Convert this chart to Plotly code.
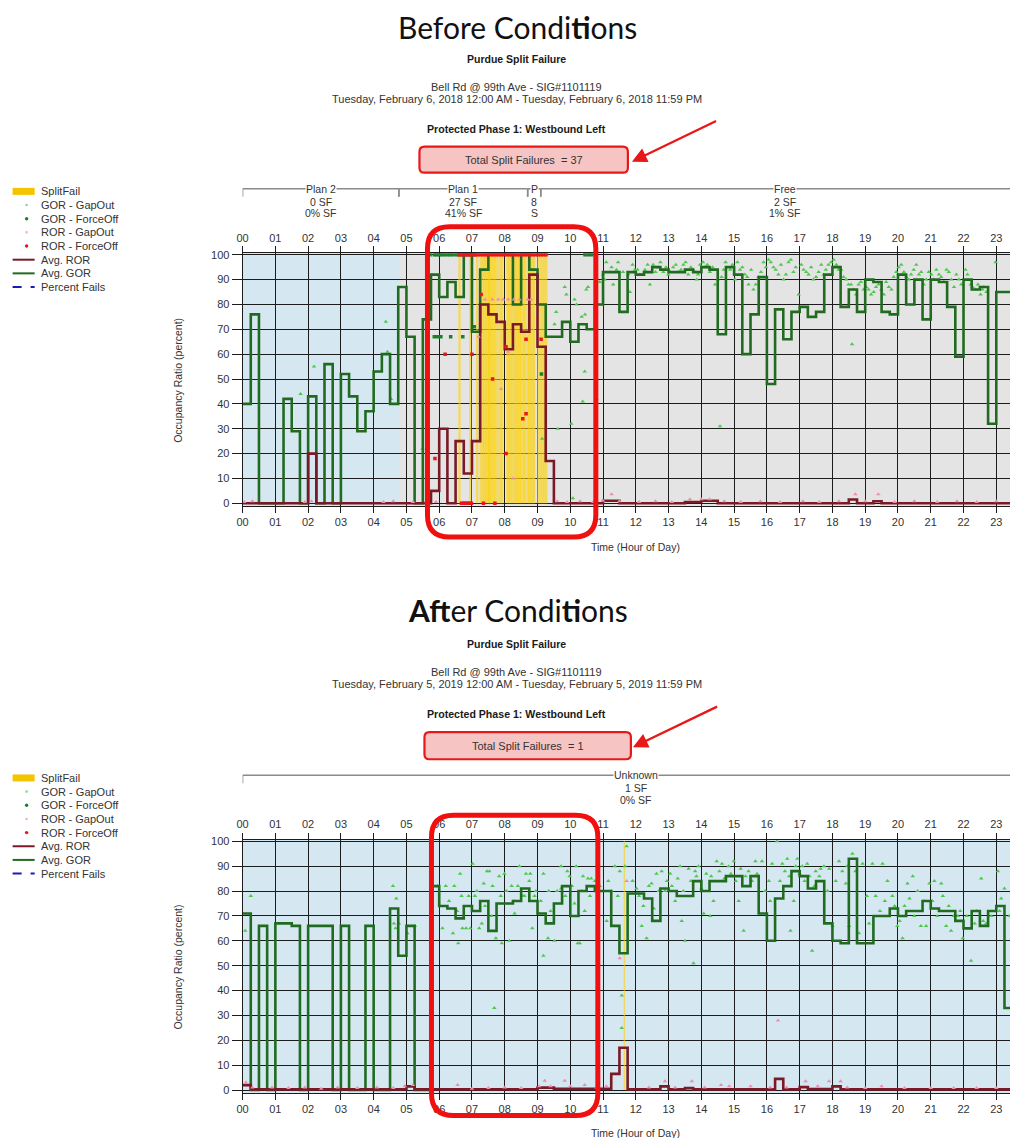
import plotly.graph_objects as go

W, H = 1018, 1138

# ------------------------------------------------------------------ data
hours = list(range(24))
hour_labels = ["%02d" % h for h in hours]
y_ticks = list(range(0, 101, 10))
bin_edges = [q / 4 for q in range(97)]  # quarter-hour bins 0..24

before_gor = [40, 76, 0, 0, 0, 42, 29, 0, 43, 0, 56, 0, 52, 43, 29, 37,
              53, 60, 40, 87, 67, 0, 74, 92, 83, 89, 83, 100, 69, 94, 100, 100,
              100, 80, 100, 94, 80, 67, 67, 73, 65, 72, 70, 80, 93, 93, 77, 93,
              92, 93, 95, 94, 93, 93, 94, 93, 95, 94, 68, 95, 92, 60, 76, 91,
              48, 78, 66, 77, 79, 75, 77, 92, 95, 79, 86, 77, 90, 89, 77, 76,
              92, 80, 90, 74, 90, 89, 79, 59, 90, 86, 87, 32, 85, 85, 0, 0]
before_ror = [0, 0, 0, 0, 0, 0, 0, 0, 20, 0, 0, 0, 0, 0, 0, 0,
              0, 0, 0, 0, 0, 0, 0, 5, 30, 0, 25, 12, 25, 80, 76, 73,
              62, 72, 69, 92, 63, 17, 0, 0, 0, 0, 0, 0, 1, 1, 0, 0,
              0, 0, 0, 0, 0, 0, 0.5, 0.5, 1, 1, 0, 0, 0, 0, 0, 0,
              0, 0, 0, 0, 0, 0, 0, 0, 0, 0, 1.5, 0, 0, 0.8, 0, 0,
              0, 0, 0, 0, 0, 0, 0, 0, 0, 0, 0, 0, 0, 0, 0, 0]
after_gor = [71, 0, 66, 0, 67, 67, 66, 0, 66, 66, 66, 0, 66, 0, 0, 66,
             0, 0, 73, 54, 66, 0, 0, 82, 74, 73, 69, 74, 72, 76, 64, 75,
             75, 76, 81, 76, 71, 67, 75, 82, 70, 80, 82, 80, 80, 66, 55, 79,
             79, 77, 68, 81, 80, 78, 78, 84, 80, 84, 84, 86, 86, 82, 86, 71,
             60, 77, 82, 88, 86, 81, 84, 67, 60, 59, 93, 59, 59, 70, 70, 73,
             70, 72, 72, 76, 73, 72, 72, 68, 65, 72, 66, 72, 74, 33, 74, 74]
after_ror = [2, 0.3, 0.3, 0.3, 0.3, 0.3, 0.3, 0.3, 0.3, 0.3, 0.3, 0.3, 0.3, 0.3, 0.3, 0.3,
             0.3, 0.3, 0.3, 0.3, 1.5, 0.3, 0.3, 0.3, 0.3, 0.3, 0.3, 0.3, 0.3, 0.3, 0.3, 0.3,
             0.3, 0.3, 0.3, 0.3, 1, 1, 0.5, 0.5, 0.5, 0.5, 0.5, 0.5, 0.5, 6.5, 17, 0.3,
             0.3, 0.3, 0.3, 1.5, 0.3, 0.3, 0.8, 0.3, 0.3, 0.3, 0.3, 0.3, 0.3, 0.3, 0.3, 0.3,
             0.3, 4.5, 0.3, 0.3, 1.2, 0.4, 0.4, 0.4, 1.5, 0.3, 0.3, 0.3, 0.3, 0.3, 0.3, 0.3,
             0.3, 0.3, 0.3, 0.3, 0.3, 0.3, 0.3, 0.3, 0.3, 0.3, 0.3, 0.3, 0.3, 0.3, 0.3, 1.5]

before_sf_times = [6.62, 6.95, 7.16, 7.27, 7.33, 7.38, 7.43, 7.48, 7.52, 7.55,
                   7.60, 7.66, 7.71, 7.78, 7.86, 7.92, 8.08, 8.13, 8.18, 8.24,
                   8.30, 8.35, 8.40, 8.45, 8.50, 8.57, 8.62, 8.70, 8.75, 8.80,
                   8.86, 8.90, 9.02, 9.09, 9.15, 9.21, 9.27]
after_sf_times = [11.65]

before_gor_gap = [
    (1.77, 44), (2.18, 55), (4.37, 73), (4.42, 61), (4.53, 42), (5.49, 22),
    (9.14, 26), (9.52, 72), (9.57, 77), (9.62, 30), (9.83, 87), (9.88, 84), (10.03, 32),
    (10.08, 2), (10.13, 82), (10.19, 80), (10.35, 75), (10.38, 41), (10.44, 53), (10.45, 76),
    (10.49, 86), (10.54, 87), (10.8, 42), (10.9, 89),
    (11.0, 92), (11.1, 97), (11.21, 93), (11.31, 88), (11.41, 94), (11.61, 93), (11.77, 92),
    (11.82, 85), (11.97, 94), (12.12, 92), (12.28, 94), (12.43, 88), (12.53, 96), (12.68, 95),
    (12.84, 93), (12.99, 92), (13.14, 95), (13.3, 93), (13.45, 96), (13.6, 92), (13.75, 94),
    (13.86, 90), (13.96, 96), (14.11, 95), (14.26, 93), (14.42, 88), (14.57, 31), (14.62, 91),
    (14.74, 97), (14.88, 94), (15.03, 90), (15.18, 94), (15.33, 92), (15.44, 88), (15.59, 86),
    (15.74, 91), (15.9, 97), (16.05, 98), (16.2, 95), (16.35, 92), (16.51, 90), (16.66, 97),
    (16.81, 93), (16.97, 84), (17.12, 94), (17.27, 92), (17.42, 90), (17.58, 93), (17.73, 92),
    (17.88, 96), (18.04, 98), (18.19, 94), (18.34, 91), (18.49, 88), (18.6, 64), (18.65, 86),
    (18.8, 88), (18.95, 86), (19.1, 86), (19.26, 85), (19.41, 88), (19.57, 84), (19.72, 87),
    (19.87, 91), (20.02, 95), (20.18, 93), (20.33, 90), (20.48, 94), (20.64, 92), (20.79, 88),
    (20.94, 93), (21.09, 90), (21.25, 92), (21.4, 89), (21.55, 93), (21.71, 87), (21.86, 90),
    (22.06, 94), (22.22, 88), (22.37, 86), (22.52, 84), (22.62, 87), (22.98, 97),
    (11.05, 90), (11.26, 95), (11.46, 97), (11.9, 96), (12.05, 94), (12.2, 92), (12.36, 96),
    (12.6, 93), (12.75, 97), (12.92, 95), (13.05, 93), (13.22, 96), (13.38, 94), (13.52, 97),
    (13.68, 95), (13.9, 92), (14.05, 97), (14.18, 96), (14.34, 95), (14.5, 90), (14.68, 94),
    (14.95, 96), (15.1, 97), (15.25, 95), (15.4, 91), (15.52, 94), (15.66, 88), (15.82, 93),
    (15.97, 95), (16.12, 97), (16.27, 94), (16.43, 96), (16.58, 92), (16.73, 98), (16.88, 95),
    (17.05, 96), (17.2, 93), (17.35, 95), (17.5, 91), (17.66, 96), (17.8, 94), (17.96, 97),
    (18.12, 96), (18.27, 94), (18.42, 90), (18.57, 88), (18.72, 84), (18.87, 89), (19.03, 87),
    (19.18, 84), (19.33, 87), (19.49, 86), (19.64, 89), (19.8, 86), (19.95, 93), (20.1, 96),
    (20.25, 91), (20.4, 92), (20.56, 96), (20.71, 93), (20.86, 90), (21.02, 92), (21.17, 94),
    (21.32, 91), (21.48, 94), (21.63, 90), (21.78, 92), (21.93, 88), (22.12, 92), (22.28, 87),
    (22.44, 88), (22.58, 86), (22.7, 85)]
before_gor_force = [
    (5.62, 100), (5.72, 100), (5.85, 100), (5.93, 100), (6.0, 100), (6.08, 100), (6.16, 100),
    (6.25, 100), (6.33, 100), (6.42, 100), (6.52, 100), (6.6, 100), (6.7, 100), (6.8, 100),
    (6.9, 100), (7.0, 100), (7.08, 100), (10.45, 100), (10.55, 100), (10.65, 100),
    (5.85, 67), (5.95, 67), (6.05, 67), (6.35, 67), (6.72, 67), (7.07, 71), (9.12, 52)]
before_ror_gap = [
    (7.4, 82), (7.62, 82), (7.8, 82), (7.95, 82), (8.1, 82), (8.28, 82), (8.45, 82), (8.7, 82),
    (8.8, 82), (7.89, 46), (8.25, 10), (7.2, 67), (8.1, 61),
    (0.05, 0.5), (0.3, 0.8), (1.9, 0.5), (2.1, 0.8), (4.3, 0.5), (4.6, 0.8), (5.2, 0.5),
    (5.6, 0.8), (5.9, 0.5), (9.6, 0.8), (9.9, 0.5), (10.3, 0.8), (10.7, 0.5), (11.0, 1),
    (11.26, 3.6), (11.5, 0.8), (12.1, 0.5), (12.6, 0.8), (13.1, 0.5), (13.65, 1.6), (14.0, 1.6),
    (14.25, 1.6), (14.7, 0.8), (15.2, 0.5), (15.8, 0.8), (16.4, 0.5), (17.1, 0.8), (17.6, 0.5),
    (18.2, 0.8), (18.7, 3.6), (19.0, 0.8), (19.4, 3.6), (19.9, 0.5), (20.5, 0.8), (21.2, 0.5),
    (21.8, 0.8), (22.4, 0.5), (23.0, 0.8), (23.5, 0.5)]
before_ror_force = [
    (6.62, 100), (6.7, 100), (6.78, 100), (6.86, 100), (6.94, 100), (7.02, 100), (7.1, 100),
    (7.18, 100), (7.26, 100), (7.34, 100), (7.42, 100), (7.5, 100), (7.58, 100), (7.66, 100),
    (7.74, 100), (7.82, 100), (7.9, 100), (7.98, 100), (8.06, 100), (8.14, 100), (8.22, 100),
    (8.3, 100), (8.38, 100), (8.46, 100), (8.54, 100), (8.62, 100), (8.7, 100), (8.78, 100),
    (8.86, 100), (8.94, 100), (9.02, 100), (9.1, 100), (9.18, 100), (9.26, 100),
    (6.68, 0), (6.73, 0), (6.78, 0), (6.83, 0), (6.88, 0), (6.93, 0), (6.98, 0), (7.35, 0), (7.7, 0),
    (5.87, 18), (6.18, 60), (7.0, 60), (7.28, 84), (7.63, 50), (8.04, 20), (8.04, 63),
    (8.55, 34), (8.65, 36), (8.65, 66), (9.11, 66)]

after_gor_gap = [
    (0.08, 64), (0.25, 78), (4.59, 82), (4.69, 77), (4.62, 67), (4.67, 65), (4.77, 67),
    (5.03, 63), (5.26, 66), (5.95, 82), (6.2, 82), (6.46, 82), (6.64, 87), (6.68, 78),
    (6.1, 65), (6.42, 63), (6.58, 59), (6.71, 65), (6.82, 65), (6.95, 65), (7.02, 91),
    (7.09, 78), (7.22, 65), (7.3, 67), (7.36, 83), (7.46, 88), (7.53, 88), (7.63, 82),
    (7.68, 33), (7.73, 61), (7.83, 86), (7.91, 59), (7.99, 87), (8.14, 60), (8.21, 82),
    (8.28, 76), (8.3, 71), (8.45, 90), (8.55, 78), (8.65, 87), (8.78, 87), (8.75, 84),
    (8.84, 65), (8.91, 78), (9.18, 87), (9.18, 54), (9.32, 61), (9.52, 60), (9.34, 80),
    (9.72, 81), (9.72, 90), (9.91, 88), (9.98, 86), (10.18, 90), (10.23, 59), (10.29, 59),
    (10.13, 75), (10.44, 72), (10.54, 85), (10.64, 85),
    (10.39, 86), (10.75, 84), (10.9, 82), (11.11, 68), (11.16, 84), (11.36, 90), (11.51, 88),
    (11.67, 90), (12.18, 66), (12.02, 81), (12.23, 74), (12.33, 61), (12.48, 83), (12.63, 87),
    (12.79, 88), (12.89, 80), (13.05, 87), (13.2, 76), (13.35, 90), (13.4, 68), (13.5, 60),
    (13.61, 89), (13.76, 51), (13.81, 88), (13.91, 90), (14.07, 71), (14.27, 70), (14.37, 76),
    (14.47, 92), (14.63, 91), (14.83, 90), (14.99, 92), (15.14, 76), (15.29, 64), (15.44, 88),
    (15.65, 92), (15.85, 92), (16.06, 84), (16.16, 91), (16.31, 100), (16.47, 91), (16.62, 93),
    (16.72, 64), (16.82, 76), (16.93, 93), (17.08, 90), (17.23, 91), (17.38, 56), (17.49, 88),
    (17.64, 89), (17.74, 90), (17.9, 89), (18.0, 66), (18.2, 92), (18.41, 83), (18.51, 66),
    (18.61, 95), (18.81, 63), (18.92, 91), (19.12, 67), (19.22, 91), (19.32, 78), (19.53, 91),
    (19.68, 84), (19.83, 78), (19.98, 66), (20.14, 61), (20.29, 83), (20.45, 86), (20.6, 80),
    (20.7, 66), (20.86, 66), (20.96, 83), (21.11, 84), (21.32, 83), (21.37, 78), (21.47, 66),
    (21.62, 64), (21.83, 70), (21.98, 61), (22.23, 52), (22.34, 67), (22.54, 85), (22.69, 67),
    (23.05, 88), (23.15, 77), (23.25, 81), (23.51, 82), (23.61, 82),
    (11.57, 38), (11.57, 25), (11.72, 98),
    (11.25, 80), (11.45, 78), (11.9, 84), (12.1, 78), (12.4, 82), (12.55, 73), (12.7, 80),
    (12.95, 84), (13.1, 82), (13.28, 85), (13.45, 80), (13.68, 84), (13.85, 86), (14.0, 81),
    (14.15, 87), (14.3, 86), (14.55, 88), (14.7, 85), (14.9, 87), (15.05, 84), (15.2, 89),
    (15.35, 86), (15.55, 84), (15.7, 87), (15.95, 80), (16.1, 76), (16.4, 84), (16.55, 88),
    (16.68, 86), (16.88, 90), (17.0, 87), (17.15, 84), (17.3, 86), (17.45, 82), (17.6, 86),
    (17.85, 80), (18.1, 84), (18.3, 88), (18.45, 90), (18.7, 88), (19.05, 78), (19.45, 72),
    (19.6, 76), (19.9, 74), (20.05, 68), (20.2, 74), (20.35, 77), (20.5, 70), (20.8, 76),
    (21.05, 76), (21.2, 70), (21.55, 74), (21.7, 70), (21.9, 72), (22.1, 70), (22.4, 72),
    (22.6, 68), (22.85, 70), (23.1, 72), (23.4, 70), (23.55, 68), (23.7, 80),
    (6.3, 76), (6.55, 72), (6.9, 78), (7.15, 80), (7.4, 74), (7.6, 70), (7.88, 78), (8.05, 80),
    (8.4, 82), (8.6, 78), (8.95, 80), (9.1, 76), (9.4, 72), (9.6, 80), (9.85, 78), (10.05, 82),
    (10.35, 80), (10.6, 78)]
after_gor_force = []
after_ror_gap = [
    (0.1, 3), (0.3, 1), (0.9, 1), (1.4, 0.8), (1.9, 1), (2.4, 0.5), (2.9, 1), (3.5, 0.8),
    (4.1, 1), (4.6, 0.8), (4.95, 1.5), (5.2, 2), (6.56, 2), (7.0, 0.5), (7.5, 0.8), (8.0, 1),
    (8.5, 0.8), (9.05, 1.5), (9.22, 3.7), (9.4, 1.5), (9.83, 3.7), (10.0, 1.5), (10.44, 2),
    (10.8, 1), (11.1, 1.5), (11.51, 53), (11.72, 84), (12.4, 1), (12.89, 3.5), (13.2, 1),
    (13.71, 3.5), (14.1, 1), (14.6, 2), (14.85, 1.5), (15.5, 1.5), (16.1, 1), (16.34, 28),
    (16.6, 1), (17.18, 3.5), (17.55, 1.5), (17.9, 3.5), (18.25, 3.5), (18.45, 1), (19.0, 0.8),
    (19.5, 1.5), (20.2, 0.8), (21.0, 0.8), (21.7, 0.8), (22.4, 0.8), (23.0, 0.8), (23.55, 1.5)]
after_ror_force = []

before_plan_names = ["Plan 2", "Plan 1", "P", "Free"]
before_plan_sf = ["0 SF", "27 SF", "8", "2 SF"]
before_plan_pct = ["0% SF", "41% SF", "S", "1% SF"]
before_plan_start = [0.0, 4.77, 8.7, 9.1]
before_plan_end = [4.77, 8.7, 9.1, 24.0]
after_plan_names = ["Unknown"]
after_plan_sf = ["1 SF"]
after_plan_pct = ["0% SF"]
after_plan_start = [0.0]
after_plan_end = [24.0]

legend_labels = ["SplitFail", "GOR - GapOut", "GOR - ForceOff", "ROR - GapOut",
                 "ROR - ForceOff", "Avg. ROR", "Avg. GOR", "Percent Fails"]

# ------------------------------------------------------------------ style
FONT = "Liberation Sans, Arial, sans-serif"
TXT = "#333333"
BLUE_BG = "#d5e7f0"
GRAY_BG = "#e4e4e4"
GRID = "#1c1c1c"
C_SF = "rgba(255,210,0,0.6)"
C_GOR_GAP = "#4cc84c"
C_GOR_FORCE = "#1e7f2a"
C_ROR_GAP = "#f08cb4"
C_ROR_FORCE = "#e8141e"
C_AVG_GOR = "#216b21"
C_AVG_ROR = "#7a1a26"
RED = "#e81818"

# page placement compensation (rendered page is scaled/offset slightly)
SC, OX, OY = 0.992, 14.4, 13.5

def px(x):
    return ((x - OX) / SC) / W

def py(y):
    return 1 - ((y - OY) / SC) / H

X_LEFT = 242.5
HOUR_PX = 32.7
X_MAX = (SC * W + OX - X_LEFT) / HOUR_PX
Y_RANGE = [-1.2, 100.6]

charts = [
    dict(gor=before_gor, ror=before_ror, sf=before_sf_times, sfw=2.4,
         gor_gap=before_gor_gap, gor_force=before_gor_force,
         ror_gap=before_ror_gap, ror_force=before_ror_force,
         names=before_plan_names, sfs=before_plan_sf, pcts=before_plan_pct,
         starts=before_plan_start, ends=before_plan_end,
         bgs=[BLUE_BG, GRAY_BG, GRAY_BG, GRAY_BG],
         top=253.5, bottom=506.3, off=0,
         title="Before Condi<b>ti</b>ons",
         date="Tuesday, February 6, 2018 12:00 AM - Tuesday, February 6, 2018 11:59 PM",
         total="Total Split Failures  = 37"),
    dict(gor=after_gor, ror=after_ror, sf=after_sf_times, sfw=1.5,
         gor_gap=after_gor_gap, gor_force=after_gor_force,
         ror_gap=after_ror_gap, ror_force=after_ror_force,
         names=after_plan_names, sfs=after_plan_sf, pcts=after_plan_pct,
         starts=after_plan_start, ends=after_plan_end,
         bgs=[BLUE_BG],
         top=839.5, bottom=1092.5, off=586,
         title="<b>Aft</b>er Condi<b>ti</b>ons",
         date="Tuesday, February 5, 2019 12:00 AM - Tuesday, February 5, 2019 11:59 PM",
         total="Total Split Failures  = 1"),
]

fig = go.Figure()
shapes = []
annotations = []

def ann(x, y, text, size=11, bold=False, color=TXT, **kw):
    t = "<b>%s</b>" % text if bold else text
    d = dict(x=px(x), y=py(y), xref="paper", yref="paper", text=t, showarrow=False,
             font=dict(family=FONT, size=size, color=color), xanchor="center", yanchor="middle")
    d.update(kw)
    annotations.append(d)

def rrect_path(x0, y0, x1, y1, r):
    X = lambda v: "%.5f" % px(v)
    Y = lambda v: "%.5f" % py(v)
    return ("M %s,%s L %s,%s Q %s,%s %s,%s L %s,%s Q %s,%s %s,%s L %s,%s Q %s,%s %s,%s L %s,%s Q %s,%s %s,%s Z" % (
        X(x0 + r), Y(y0), X(x1 - r), Y(y0), X(x1), Y(y0), X(x1), Y(y0 + r),
        X(x1), Y(y1 - r), X(x1), Y(y1), X(x1 - r), Y(y1),
        X(x0 + r), Y(y1), X(x0), Y(y1), X(x0), Y(y1 - r),
        X(x0), Y(y0 + r), X(x0), Y(y0), X(x0 + r), Y(y0)))

layout_axes = {}
for i, c in enumerate(charts):
    n = i + 1
    xa = "x" if n == 1 else "x%d" % n
    ya = "y" if n == 1 else "y%d" % n
    xtop = "x%d" % (n + 2)
    off = c["off"]

    # split-fail vertical lines
    sx, sy = [], []
    for t in c["sf"]:
        sx += [t, t, None]
        sy += [0, 100, None]
    fig.add_trace(go.Scatter(x=sx, y=sy, xaxis=xa, yaxis=ya, mode="lines",
                             line=dict(color=C_SF, width=c["sfw"]), hoverinfo="skip"))
    for pts, col, sym, size in [(c["gor_gap"], C_GOR_GAP, "triangle-up", 4),
                                (c["gor_force"], C_GOR_FORCE, "square", 3.5)]:
        if pts:
            fig.add_trace(go.Scatter(x=[p[0] for p in pts], y=[p[1] for p in pts],
                                     xaxis=xa, yaxis=ya, mode="markers",
                                     marker=dict(color=col, symbol=sym, size=size, line=dict(width=0))))
    fig.add_trace(go.Scatter(x=bin_edges, y=c["gor"] + [c["gor"][-1]], xaxis=xa, yaxis=ya,
                             mode="lines", line=dict(color=C_AVG_GOR, width=2.6, shape="hv")))
    fig.add_trace(go.Scatter(x=bin_edges, y=c["ror"] + [c["ror"][-1]], xaxis=xa, yaxis=ya,
                             mode="lines", line=dict(color=C_AVG_ROR, width=2.6, shape="hv")))
    for pts, col, sym, size in [(c["ror_gap"], C_ROR_GAP, "triangle-up", 4),
                                (c["ror_force"], C_ROR_FORCE, "square", 3.5)]:
        if pts:
            fig.add_trace(go.Scatter(x=[p[0] for p in pts], y=[p[1] for p in pts],
                                     xaxis=xa, yaxis=ya, mode="markers",
                                     marker=dict(color=col, symbol=sym, size=size, line=dict(width=0))))
    fig.add_trace(go.Scatter(x=[0], y=[-50], xaxis=xtop, yaxis=ya,
                             mode="markers", marker=dict(opacity=0), hoverinfo="skip"))

    dom_y = [py(c["bottom"]), py(c["top"])]
    tickfont = dict(family=FONT, size=11, color=TXT)
    xcommon = dict(range=[0, X_MAX], tickvals=hours, ticktext=hour_labels, ticks="outside",
                   ticklen=6, tickcolor=GRID, tickfont=tickfont, zeroline=False, fixedrange=True)
    layout_axes["xaxis" if n == 1 else "xaxis%d" % n] = dict(
        domain=[px(X_LEFT), 1], anchor=ya, showgrid=True, gridcolor=GRID, gridwidth=1,
        showline=True, linecolor=GRID, linewidth=1, **xcommon)
    layout_axes["xaxis%d" % (n + 2)] = dict(
        overlaying=xa, side="top", anchor=ya, matches=xa, showgrid=False,
        showline=True, linecolor=GRID, linewidth=1, **xcommon)
    layout_axes["yaxis" if n == 1 else "yaxis%d" % n] = dict(
        domain=dom_y, anchor=xa, range=Y_RANGE, tickvals=y_ticks, ticks="outside", ticklen=10,
        tickcolor=GRID, tickfont=tickfont, showgrid=True, gridcolor=GRID, gridwidth=1,
        showline=True, linecolor=GRID, linewidth=1, zeroline=False, fixedrange=True)

    # plan backgrounds and brackets
    br_y = 189 + off
    for k in range(len(c["names"])):
        s, e = c["starts"][k], c["ends"][k]
        shapes.append(dict(type="rect", xref=xa, yref=ya, x0=s, x1=e, y0=Y_RANGE[0], y1=Y_RANGE[1],
                           fillcolor=c["bgs"][k], line=dict(width=0), layer="below"))
        shapes.append(dict(type="line", xref=xa, yref="paper", x0=s, x1=e, y0=py(br_y), y1=py(br_y),
                           line=dict(color="#8a8a8a", width=1.5)))
        for xe in (s, e):
            shapes.append(dict(type="line", xref=xa, yref="paper", x0=xe, x1=xe,
                               y0=py(br_y), y1=py(br_y + 8), line=dict(color="#8a8a8a", width=1.5)))
        mid = (s + e) / 2
        for j, (txt, dy) in enumerate([(c["names"][k], 0), (c["sfs"][k], 13), (c["pcts"][k], 24.5)]):
            annotations.append(dict(x=mid, y=py(br_y + dy), xref=xa, yref="paper", text=txt,
                                    showarrow=False, xanchor="center", yanchor="middle",
                                    bgcolor="white" if j == 0 else None, borderpad=0,
                                    font=dict(family=FONT, size=10.5, color=TXT)))

    # headers
    d = 1 if n == 2 else 0
    ann(517, 27 + off - 3 * d, c["title"],
        font=dict(family="Lato, sans-serif", size=30, color="#111111"))
    ann(516, 59 + off - d, "Purdue Split Failure", size=10.5, bold=True, color="#1a1a1a")
    ann(516, 87 + off - d, "Bell Rd @ 99th Ave - SIG#1101119")
    ann(516, 99 + off - d, c["date"])
    ann(516, 129 + off - d, "Protected Phase 1: Westbound Left", size=10.6, bold=True, color="#1a1a1a")
    bx0, bx1 = (419, 627) if n == 1 else (424, 630)
    by0, by1 = (147 + off - d), (173 + off)
    shapes.append(dict(type="path", xref="paper", yref="paper", path=rrect_path(bx0, by0, bx1, by1, 5),
                       fillcolor="#f7c4c4", line=dict(color=RED, width=2.2), layer="above"))
    ann((bx0 + bx1) / 2, (by0 + by1) / 2, c["total"])
    tipx, tipy = (631, 162) if n == 1 else (632, 747)
    annotations.append(dict(x=px(tipx), y=py(tipy), xref="paper", yref="paper", text="",
                            showarrow=True, ax=85 / SC, ay=-41 / SC, axref="pixel", ayref="pixel",
                            arrowhead=2, arrowsize=1.3, arrowwidth=2.3, arrowcolor=RED))
    # highlight frame
    fx0, fy0, fx1, fy1 = (427, 227, 595, 537) if n == 1 else (431, 815, 597, 1115)
    shapes.append(dict(type="path", xref="paper", yref="paper", path=rrect_path(fx0, fy0, fx1, fy1, 22),
                       line=dict(color="#f01010", width=5), layer="above"))
    # axis titles
    ann(178, 380 + off, "Occupancy Ratio (percent)", size=10.5, textangle=-90)
    ann(635, 547 + off - d, "Time (Hour of Day)", size=10.5)

    # manual legend
    for k, lab in enumerate(legend_labels):
        yy = 191.7 + off + k * 13.65
        ann(39, yy, lab, xanchor="left")
        if k == 0:
            shapes.append(dict(type="rect", xref="paper", yref="paper", x0=px(13), x1=px(35),
                               y0=py(yy + 3.5), y1=py(yy - 3.5), fillcolor="#f5c400",
                               line=dict(width=0)))
        elif k in (1, 2, 3, 4):
            col = [None, "#8fd88f", C_GOR_FORCE, "#f6b3c8", C_ROR_FORCE][k]
            r = 1.3 if k in (1, 3) else 1.7
            shapes.append(dict(type="circle", xref="paper", yref="paper", x0=px(27 - r), x1=px(27 + r),
                               y0=py(yy + r), y1=py(yy - r), fillcolor=col, line=dict(width=0)))
        else:
            col = {5: C_AVG_ROR, 6: C_AVG_GOR, 7: "#1a1ab8"}[k]
            dash = "dash" if k == 7 else "solid"
            shapes.append(dict(type="line", xref="paper", yref="paper", x0=px(13), x1=px(35),
                               y0=py(yy), y1=py(yy), line=dict(color=col, width=2, dash=dash)))

fig.update_layout(
    width=W, height=H, margin=dict(l=0, r=0, t=0, b=0),
    paper_bgcolor="white", plot_bgcolor=BLUE_BG, showlegend=False,
    shapes=shapes, annotations=annotations, **layout_axes)

fig.write_html("out.html")
